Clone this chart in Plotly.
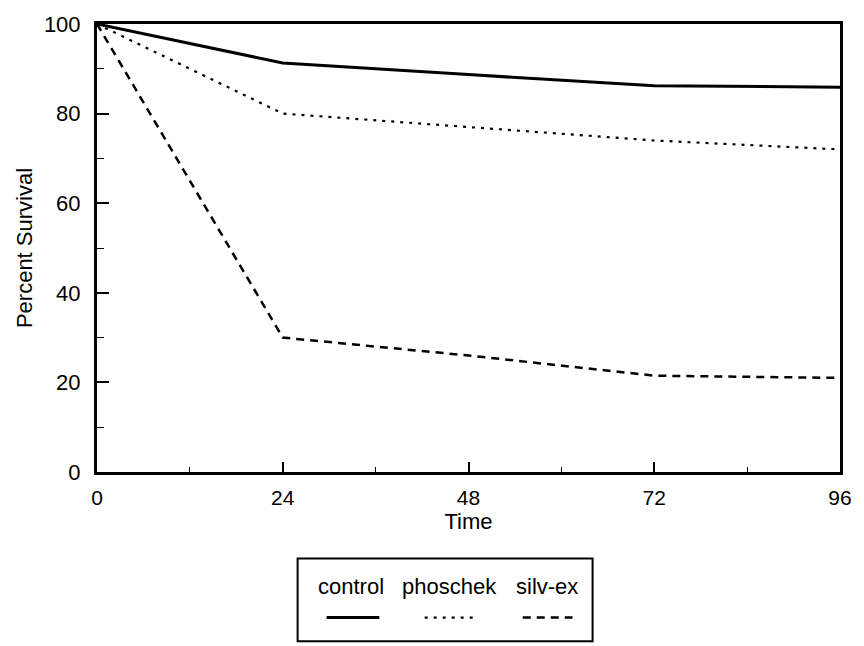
import plotly.graph_objects as go

# ---- data ----
time_h = [0, 24, 48, 72, 96]
control = [100, 91.3, 88.7, 86.2, 85.9]
phoschek = [100, 80, 77, 74, 72]
silv_ex = [100, 30, 26, 21.5, 21]
series_names = ["control", "phoschek", "silv-ex"]
x_ticks = [0, 24, 48, 72, 96]
y_ticks = [0, 20, 40, 60, 80, 100]

FONT = "Arial, Liberation Sans, sans-serif"

fig = go.Figure()
styles = [
    dict(color="black", width=3, dash="solid"),
    dict(color="black", width=2.2, dash="3px,6px"),
    dict(color="black", width=2.5, dash="8px,6px"),
]
for name, ys, st in zip(series_names, [control, phoschek, silv_ex], styles):
    fig.add_trace(go.Scatter(x=time_h, y=ys, mode="lines", name=name,
                             line=st, showlegend=False))

fig.update_layout(
    width=864, height=646,
    margin=dict(l=97, r=12, t=17, b=174),
    paper_bgcolor="white", plot_bgcolor="white",
    font=dict(family=FONT, size=21, color="black"),
)
fig.update_xaxes(
    range=[0, 96], tickvals=x_ticks, ticktext=[str(v) for v in x_ticks],
    showgrid=False, zeroline=False,
    showline=True, linecolor="black", linewidth=3, mirror=True,
    ticks="inside", ticklen=10, tickwidth=1.5, tickcolor="black",
    minor=dict(dtick=12, ticks="inside", ticklen=5, tickwidth=1.2, tickcolor="black"),
    tickfont=dict(size=21), ticklabelstandoff=5,
    title=dict(text="Time", font=dict(size=22), standoff=4),
)
fig.update_yaxes(
    range=[0, 100], tickvals=y_ticks, ticktext=[str(v) for v in y_ticks],
    showgrid=False, zeroline=False,
    showline=True, linecolor="black", linewidth=3, mirror=True,
    ticks="inside", ticklen=12, tickwidth=1.5, tickcolor="black",
    minor=dict(dtick=10, ticks="inside", ticklen=7, tickwidth=1.2, tickcolor="black"),
    tickfont=dict(size=22), ticklabelstandoff=9,
    title=dict(text="Percent Survival", font=dict(size=22), standoff=6),
)

# ---- custom legend (text above line samples, boxed) ----
fig.add_shape(type="rect", xref="paper", yref="paper",
              x0=0.270, x1=0.667, y0=-0.378, y1=-0.193,
              line=dict(color="black", width=2), fillcolor="white")
label_x = [0.342, 0.475, 0.606]
sample_x = [(0.309, 0.380), (0.441, 0.510), (0.573, 0.640)]
for name, lx, (sx0, sx1), st in zip(series_names, label_x, sample_x, styles):
    fig.add_annotation(x=lx, y=-0.255, xref="paper", yref="paper",
                       xanchor="center", yanchor="middle",
                       text=name, showarrow=False,
                       font=dict(size=22, family=FONT))
    fig.add_shape(type="line", xref="paper", yref="paper",
                  x0=sx0, x1=sx1, y0=-0.325, y1=-0.325,
                  line=dict(color="black", width=st["width"], dash=st["dash"]))

fig.write_html("out.html")
